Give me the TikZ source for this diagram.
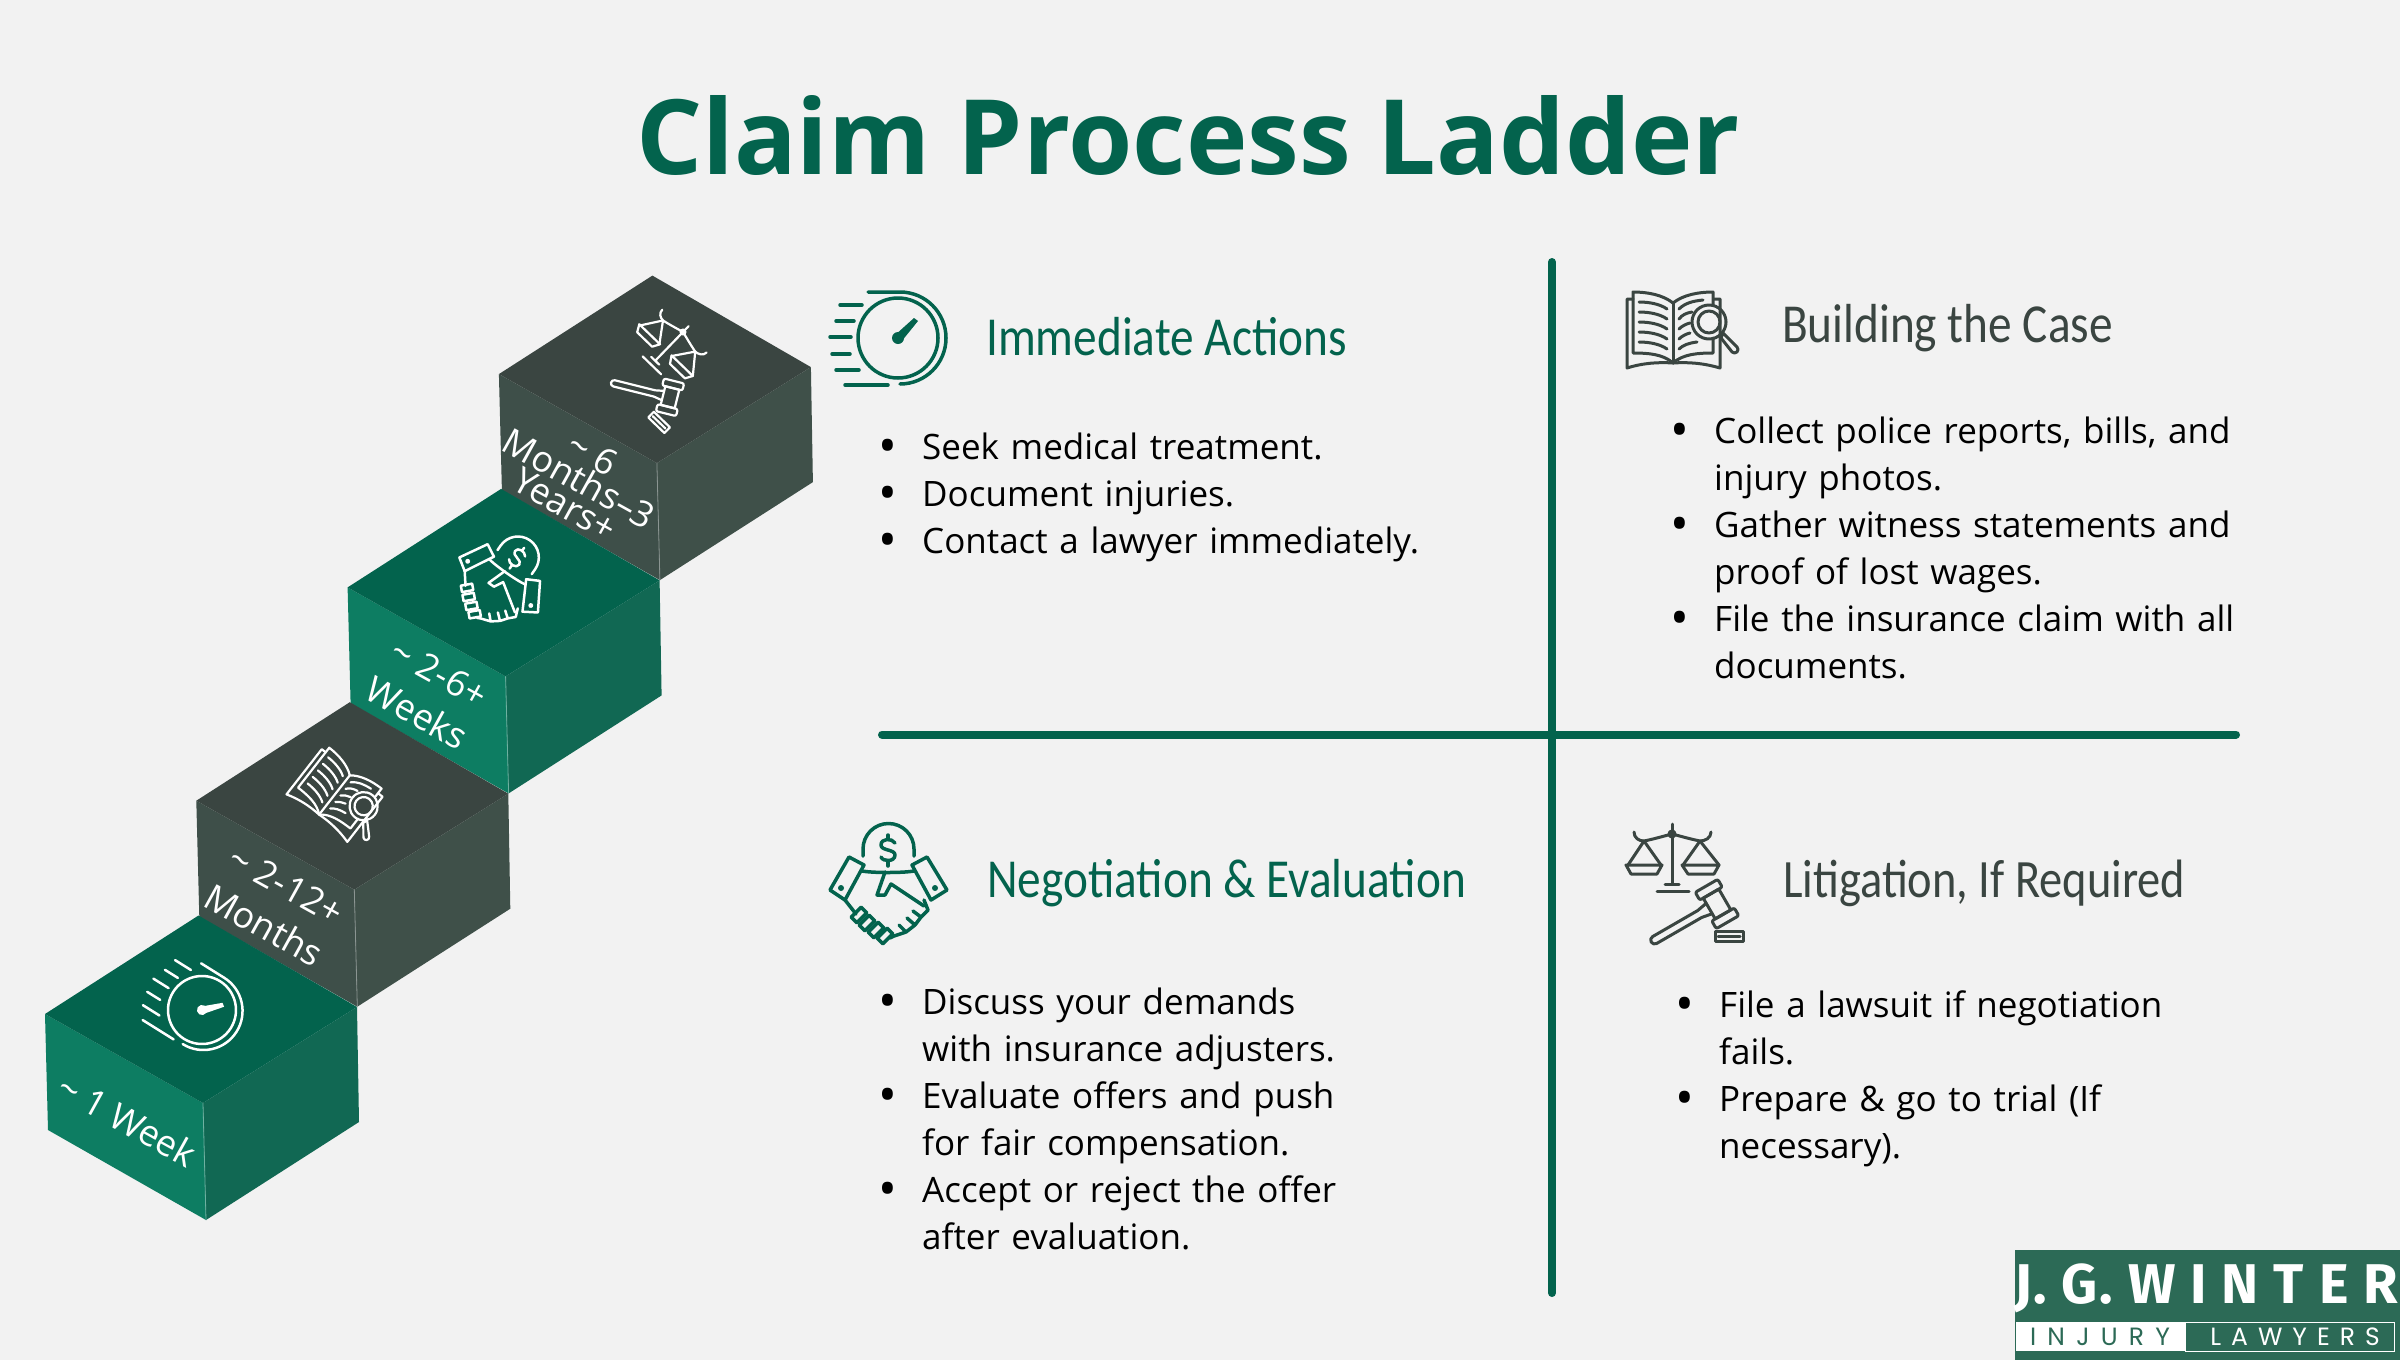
\documentclass[tikz,border=0pt]{standalone}
\usepackage{fontspec}
\setmainfont{Open Sans}
\newfontfamily\headfont[FakeStretch=0.86]{Carlito}
\newfontfamily\logofont{Fira Sans}
\newfontfamily\logosub{Poppins}
\definecolor{pagegrey}{HTML}{F2F2F2}
\definecolor{claimgreen}{HTML}{03634D}
\definecolor{greenleft}{HTML}{0D7D62}
\definecolor{greenright}{HTML}{116853}
\definecolor{slatetop}{HTML}{3A4541}
\definecolor{slateleft}{HTML}{3E4F49}
\definecolor{slateright}{HTML}{3F5049}
\definecolor{logogreen}{HTML}{2C6A56}
\newcommand{\bigbullet}{\makebox[6pt]{\raisebox{-4pt}[0pt][0pt]{\fontsize{50}{47}\selectfont\textbullet}}}
\newenvironment{claimlist}{\begin{list}{\bigbullet}{\setlength{\leftmargin}{34pt}\setlength{\labelwidth}{6pt}\setlength{\labelsep}{31pt}\setlength{\itemsep}{0pt}\setlength{\parsep}{0pt}\setlength{\topsep}{0pt}\setlength{\partopsep}{0pt}\setlength{\itemindent}{0pt}}}{\end{list}}
\tikzset{
  titletext/.style={font=\fontsize{104}{110}\selectfont\bfseries,text=claimgreen,inner sep=0},
  headtext/.style={font=\headfont\fontsize{55}{58}\selectfont,anchor=base west,inner sep=0},
  bodytext/.style={font=\fontsize{35}{47}\selectfont,anchor=north west,inner sep=0,text width=640pt,align=left,text=black},
  steptext/.style={font=\fontsize{36}{46}\selectfont,text=white,inner sep=0,rotate=-29,align=center},
  iconline/.style={line cap=round,line join=round},
  pics/gaugeicon/.style={code={
    \draw (0,0) circle[radius=40];
    \draw (-30,-46) -- (2,-46) arc[start angle=-90,end angle=90,radius=46];
    \foreach \a/\b/\y in {-58/-36/-33,-62/-44/-17,-68/-47/-1,-66/-48/16,-62/-39/32,-53/-10/47}
      \draw (\a,\y) -- (\b,\y);
    \fill (0,0) circle[radius=6];
    \fill (-4,-2) -- (16,-20) -- (20,-17) -- (3,4) -- cycle;
  }},
  pics/bookicon/.style={code={
    \draw (-40,-31) -- (-46,-31) -- (-46,38) .. controls (-30,33) and (-15,32) .. (0,33) .. controls (15,32) and (30,33) .. (47,38) -- (47,-31) -- (41,-31);
    \draw (0,-27) .. controls (-10,-35) and (-25,-38) .. (-40,-38) -- (-40,23) .. controls (-25,23) and (-10,24) .. (0,33);
    \draw (0,-27) .. controls (10,-35) and (25,-38) .. (40,-38) -- (40,-25);
    \draw (0,33) .. controls (10,24) and (25,23) .. (40,23) -- (40,8);
    \draw (0,-27) -- (0,33);
    \foreach \y in {-28,-18,-8,2,12}
      \draw (-34,\y) .. controls (-24,\y) and (-13,\y+2) .. (-6,\y+7);
    \draw (6,-21) .. controls (12,-27) and (20,-29) .. (30,-30);
    \draw (6,-11) .. controls (9,-15) and (13,-17) .. (19,-18);
    \draw (6,-1) .. controls (9,-4) and (13,-6) .. (17,-7);
    \draw (6,9) .. controls (9,6) and (13,4) .. (17,3);
    \draw (6,19) .. controls (10,15) and (16,13) .. (24,12);
    \draw (36,-8) circle[radius=17];
    \draw (36,-8) circle[radius=11];
    \draw (50,3) -- (61,14) -- ++(3,3) arc[start angle=-45,end angle=135,radius=3.5] -- (48,8) -- cycle;
  }},
  pics/dealicon/.style={code={
    \draw (-25,-24) -- (-25,-31) arc[start angle=180,end angle=360,radius=25.5] -- (26,-24);
    \draw (7,-37) .. controls (4,-42) and (-7,-42) .. (-7,-35) .. controls (-7,-29) and (7,-31) .. (7,-25) .. controls (7,-18) and (-5,-18) .. (-7,-23);
    \draw (0,-45) -- (0,-41) (0,-19) -- (0,-14);
    \draw (-39,-23) -- (-24,-15) -- (-43,20) -- (-58,10) -- cycle;
    \draw (39,-23) -- (24,-15) -- (43,20) -- (59,10) -- cycle;
    \fill (-47,8) circle[radius=3] (47,8) circle[radius=3];
    \draw (-26,-9) .. controls (-15,-7) and (15,-7) .. (26,-9);
    \draw (-3,-8) -- (-11,15) -- (-3,15) -- (3,4) -- (36,26);
    \draw (36,20) -- (40,30) -- (33,37) -- (25,31) (33,37) -- (27,45) -- (19,38) (27,45) -- (18,52) -- (11,45) (18,52) -- (6,56) -- (2,58);
    \draw (-43,20) -- (-32,34);
    \foreach \x/\y in {-29/35,-21/43,-12/50,-3/56}
      \draw[rotate around={45:(\x,\y)}] (\x-7,\y-4) rectangle (\x+7,\y+4);
  }},
  pics/lawicon/.style={code={
    \draw (0,-10) -- (0,50) (-7,50) -- (7,50) (-15,57) -- (17,57);
    \draw (-38,-2) .. controls (-38,4) and (-33,7) .. (-28,7) .. controls (-18,5) and (-8,2) .. (0,0) .. controls (8,2) and (18,5) .. (28,7) .. controls (33,7) and (39,4) .. (39,-2);
    \draw (0,0) circle[radius=3];
    \draw (-44,31) -- (-28,7) -- (-11,31);
    \draw (11,31) -- (28,7) -- (47,31);
    \draw (-46,31) -- (-10,31) -- (-15,40) -- (-41,40) -- cycle;
    \draw (10,31) -- (47,31) -- (42,40) -- (16,40) -- cycle;
    \begin{scope}[shift={(45,70)},rotate=30]
      \draw (-9,-6) -- (-20,-4) -- (-72,-4) arc[start angle=-90,end angle=-270,radius=4] -- (-20,4) -- (-9,6);
      \draw (-9,-12) rectangle (9,12);
      \draw[rounded corners=2] (-13,-21) rectangle (13,-12);
      \draw[rounded corners=2] (-13,12) rectangle (13,21);
    \end{scope}
    \draw (43,97) rectangle (71,107);
    \draw (46,102) -- (68,102);
  }}
}
\begin{document}
\begin{tikzpicture}[x=1pt,y=-1pt]
  \useasboundingbox[fill=pagegrey] (0,0) rectangle (2400,1360);
  % steps, top one first
  \foreach \k/\ctop/\cleft/\cright in {3/slatetop/slateleft/slateright,2/claimgreen/greenleft/greenright,1/slatetop/slateleft/slateright,0/claimgreen/greenleft/greenright}
  {
    \begin{scope}[xshift=\k*151.3,yshift=\k*213.3]
      \fill[\cleft] (45,1014) -- (203,1103) -- (206,1220) -- (48,1130) -- cycle;
      \fill[\cright] (203,1103) -- (357,1007) -- (359,1122) -- (206,1220) -- cycle;
      \fill[\ctop] (45,1014) -- (198.5,915.5) -- (357,1007) -- (203,1103) -- cycle;
      \draw[\cleft!60!white,line width=.8] (203,1103) -- (206,1220);
    \end{scope}
  }
  \node[steptext] (stepone) at (127,1120) {\textasciitilde\ 1 Week};
  \node[steptext] (steptwo) at (275,905) {\textasciitilde\ 2-12+\\Months};
  \node[steptext] (stepthree) at (428,693) {\textasciitilde\ 2-6+\\Weeks};
  \node[steptext,font=\fontsize{36}{29}\selectfont] (stepfour) at (579,479) {\textasciitilde\ 6\\Months--3\\Years+};
  % icons on the steps
  \pic[white,iconline,line width=2.5,rotate=-32,scale=.85] at (202,1010) {gaugeicon};
  \pic[white,iconline,line width=2.2,rotate=-38,scale=.83] at (336,793) {bookicon};
  \pic[white,iconline,line width=2.5,rotate=-35,scale=.82] at (503,578) {dealicon};
  \pic[white,iconline,line width=2.2,rotate=-44,scale=.8] at (683,332) {lawicon};
  % title
  \node[titletext] (title) at (1188,135) {Claim Process Ladder};
  % dividers
  \coordinate (vtop) at (1552,262);
  \coordinate (vbot) at (1552,1293);
  \coordinate (hleft) at (882,734.5);
  \coordinate (hright) at (2236,734.5);
  \draw[claimgreen,line width=8,line cap=round] (vtop) -- (vbot);
  \draw[claimgreen,line width=8,line cap=round] (hleft) -- (hright);
  % headings with icons
  \pic[claimgreen,iconline,line width=3.5] at (898,338) {gaugeicon};
  \pic[slatetop,iconline,line width=3] at (1673,330) {bookicon};
  \pic[claimgreen,iconline,line width=3.5] at (888,880) {dealicon};
  \pic[slatetop,iconline,line width=3] at (1672,834) {lawicon};
  \node[headtext,text=claimgreen] (immediate) at (986,355) {Immediate Actions};
  \node[headtext,text=slatetop] (building) at (1782,342) {Building the Case};
  \node[headtext,text=claimgreen] (negotiation) at (987,897) {Negotiation \& Evaluation};
  \node[headtext,font=\headfont\fontsize{54}{58}\selectfont,text=slatetop] (litigation) at (1783,897) {Litigation, If Required};
  % lists
  \node[bodytext] (actionlist) at (888,412) {\begin{claimlist}
    \item Seek medical treatment.
    \item Document injuries.
    \item Contact a lawyer immediately.
  \end{claimlist}};
  \node[bodytext] (caselist) at (1680,396) {\begin{claimlist}
    \item Collect police reports, bills, and\\injury photos.
    \item Gather witness statements and\\proof of lost wages.
    \item File the insurance claim with all\\documents.
  \end{claimlist}};
  \node[bodytext] (evallist) at (888,967) {\begin{claimlist}
    \item Discuss your demands\\with insurance adjusters.
    \item Evaluate offers and push\\for fair compensation.
    \item Accept or reject the offer\\after evaluation.
  \end{claimlist}};
  \node[bodytext] (courtlist) at (1685,970) {\begin{claimlist}
    \item File a lawsuit if negotiation\\fails.
    \item Prepare \& go to trial (If\\necessary).
  \end{claimlist}};
  % logo
  \fill[logogreen] (2015,1250) rectangle (2400,1360);
  \fill[white] (2016,1322) rectangle (2185,1351);
  \draw[white,line width=1] (2185,1322) rectangle (2394,1351);
  \node[inner sep=0,text=white,font=\logofont\bfseries\fontsize{56}{60}\selectfont] (logomain) at (2206,1288) {\addfontfeature{LetterSpace=3}J. G. W I N T E R};
  \node[inner sep=0,text=logogreen,font=\logosub\fontsize{25}{27}\selectfont] (logoinjury) at (2100,1337) {\addfontfeature{LetterSpace=45}INJURY};
  \node[inner sep=0,text=white,font=\logosub\fontsize{25}{27}\selectfont] (logolawyers) at (2295,1337) {\addfontfeature{LetterSpace=40}LAWYERS};
\end{tikzpicture}
\end{document}
